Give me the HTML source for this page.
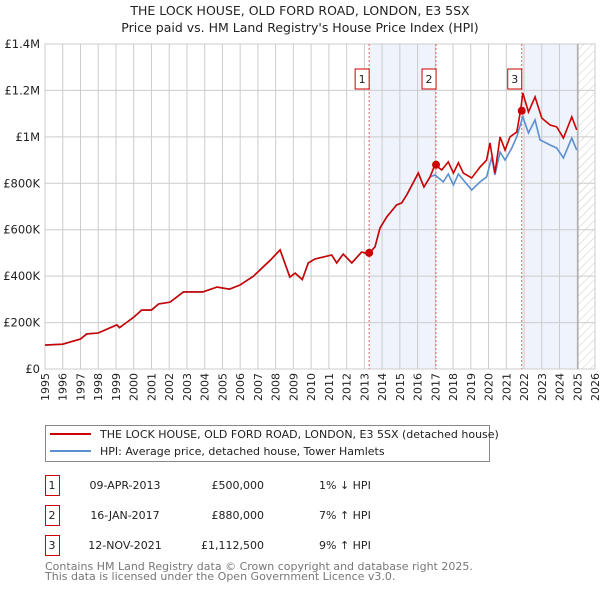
<!DOCTYPE html>
<html><head><meta charset="utf-8"><style>
body{margin:0;background:#fff;font-family:"DejaVu Sans","Liberation Sans",sans-serif;}
svg text{font-family:"DejaVu Sans","Liberation Sans",sans-serif;}
</style></head><body>
<svg id="c" width="600" height="590" xmlns="http://www.w3.org/2000/svg">
<defs><pattern id="hatch" width="6" height="6" patternUnits="userSpaceOnUse" patternTransform="rotate(45)"><line x1="0" y1="0" x2="0" y2="6" stroke="#ccc" stroke-width="1"/></pattern></defs>
<text x="300" y="15" text-anchor="middle" font-size="12.5" fill="#222">THE LOCK HOUSE, OLD FORD ROAD, LONDON, E3 5SX</text>
<text x="300" y="32" text-anchor="middle" font-size="12.5" fill="#222">Price paid vs. HM Land Registry's House Price Index (HPI)</text>
<g id="plot"></g>
<g>
<rect x="45.5" y="425.5" width="444" height="36" fill="#fff" stroke="#888"/>
<line x1="50" y1="434" x2="91" y2="434" stroke="#cc0000" stroke-width="2"/>
<text x="100" y="438" font-size="11" fill="#222">THE LOCK HOUSE, OLD FORD ROAD, LONDON, E3 5SX (detached house)</text>
<line x1="50" y1="451" x2="91" y2="451" stroke="#5b8fd0" stroke-width="2"/>
<text x="100" y="455" font-size="11" fill="#222">HPI: Average price, detached house, Tower Hamlets</text>
</g>
<g id="tbl" font-size="11" fill="#222"></g>
<text x="45" y="570" font-size="11" fill="#777">Contains HM Land Registry data © Crown copyright and database right 2025.</text>
<text x="45" y="580" font-size="11" fill="#777">This data is licensed under the Open Government Licence v3.0.</text>
</svg>
<script>
const hpiDates=[1995.0,1996.0,1997.0,1997.35,1998.0,1999.05,1999.2,2000.0,2000.45,2001.0,2001.4,2002.05,2002.8,2003.9,2004.7,2005.4,2006.0,2006.75,2007.7,2008.25,2008.8,2009.1,2009.5,2009.84,2010.22,2011.16,2011.44,2011.81,2012.29,2012.85,2013.23,2013.6,2013.88,2014.26,2014.82,2015.1,2015.39,2016.04,2016.36,2016.7,2016.98,2017.45,2017.73,2018.02,2018.3,2019.05,2019.52,2019.89,2020.18,2020.36,2020.65,2020.93,2021.31,2021.59,2021.93,2022.25,2022.62,2022.9,2023.47,2023.84,2024.22,2024.69,2024.97];
const hpiValues=[103,107,129,151,155,190,178,223,254,254,280,288,332,332,353,344,362,400,469,513,396,413,385,457,474,491,457,495,457,504,495,526,607,655,707,715,750,844,784,827,836,806,840,793,840,771,806,827,913,836,935,900,952,1000,1086,1017,1073,987,965,952,909,995,943];
const propDates=[2016.98,2017.36,2017.73,2018.02,2018.3,2018.58,2019.05,2019.52,2019.89,2020.08,2020.36,2020.65,2020.93,2021.21,2021.59,2021.81,2021.93,2022.25,2022.62,2023.0,2023.47,2023.84,2024.22,2024.69,2024.97];
const propValues=[880,857,892,844,888,844,823,870,900,974,844,1000,943,1000,1021,1116,1189,1107,1172,1081,1051,1043,995,1086,1030];
const saleLabels=["1","2","3"];
const saleDates=[2013.27,2017.04,2021.87];
const salePrices=[500,880,1112.5];
const saleDateText=["09-APR-2013","16-JAN-2017","12-NOV-2021"];
const salePriceText=["£500,000","£880,000","£1,112,500"];
const saleHpiText=["1% ↓ HPI","7% ↑ HPI","9% ↑ HPI"];
const yTicks=[0,200,400,600,800,1000,1200,1400];
const yTickLabels=["£0","£200K","£400K","£600K","£800K","£1M","£1.2M","£1.4M"];
const xTicks=[1995,1996,1997,1998,1999,2000,2001,2002,2003,2004,2005,2006,2007,2008,2009,2010,2011,2012,2013,2014,2015,2016,2017,2018,2019,2020,2021,2022,2023,2024,2025,2026];
const dataEnd=2025.04;

const X0=45,X1=595,Y0=369,Y1=44;
const xs=y=>X0+(y-1995)/(2026-1995)*(X1-X0);
const ys=v=>Y0-v/1400*(Y0-Y1);
const NS="http://www.w3.org/2000/svg";
const plot=document.getElementById('plot');
function mk(tag,attrs,parent){const e=document.createElementNS(NS,tag);for(const k in attrs)e.setAttribute(k,attrs[k]);(parent||plot).appendChild(e);return e;}

for(let i=0;i<saleDates.length;i+=2){
  const a=xs(saleDates[i]),b=i+1<saleDates.length?xs(saleDates[i+1]):xs(dataEnd);
  const r=mk('rect',{x:a,y:Y1,width:b-a,height:Y0-Y1,fill:'#eef3fc'});
  
  
}
const h=mk('rect',{x:xs(dataEnd),y:Y1,width:X1-xs(dataEnd),height:Y0-Y1,fill:'url(#hatch)'});


yTicks.forEach((t,i)=>{
  const l=mk('line',{x1:X0,x2:X1,y1:ys(t),y2:ys(t),stroke:'#ccc'});
  
  
  const tx=mk('text',{x:40,y:ys(t)+4,'text-anchor':'end','font-size':'11.5',fill:'#222'});
  tx.textContent=yTickLabels[i];
  
  
});
xTicks.forEach(t=>{
  const l=mk('line',{x1:xs(t),x2:xs(t),y1:Y1,y2:Y0,stroke:'#ccc'});
  
  
  const px=xs(t)+4,py=373;
  const tx=mk('text',{x:px,y:py,'text-anchor':'end','font-size':'11',fill:'#222',transform:'rotate(-90 '+px+' '+py+')'});
  tx.textContent=t;
  
  
});
const fr=mk('rect',{x:X0,y:Y1,width:X1-X0,height:Y0-Y1,fill:'none',stroke:'#ccc'});


const el=mk('line',{x1:xs(dataEnd),x2:xs(dataEnd),y1:Y1,y2:Y0,stroke:'#999'});


saleDates.forEach((d,i)=>{
  const l=mk('line',{x1:xs(d),x2:xs(d),y1:Y1,y2:Y0,stroke:'#e86060','stroke-dasharray':'2,2'});
  
  
  const b=mk('rect',{x:xs(d)-14,y:69,width:14,height:20,fill:'#fff',stroke:'#cc0000'});
  
  
  const t=mk('text',{x:xs(d)-7,y:83,'text-anchor':'middle','font-size':'11',fill:'#222'});
  t.textContent=saleLabels[i];
  
  
});
const hp=mk('polyline',{points:hpiDates.map((d,i)=>xs(d)+','+ys(hpiValues[i])).join(' '),fill:'none',stroke:'#5b8fd0','stroke-width':1.6});


const pre=[];hpiDates.forEach((d,i)=>{if(d<propDates[0])pre.push(xs(d)+','+ys(hpiValues[i]));});
const rp=mk('polyline',{points:pre.concat(propDates.map((d,i)=>xs(d)+','+ys(propValues[i]))).join(' '),fill:'none',stroke:'#cc0000','stroke-width':1.6});


saleDates.forEach((d,i)=>{
  const c=mk('circle',{cx:xs(d),cy:ys(salePrices[i]),r:4,fill:'#cc0000'});
  
  
});
const tbl=document.getElementById('tbl');
saleLabels.forEach((s,i)=>{
  const y=475+i*30;
  const b=mk('rect',{x:45.5,y:y+0.5,width:14,height:20,fill:'none',stroke:'#cc0000'},tbl);
  
  
  const cells=[[52,'middle',s],[125,'middle',saleDateText[i]],[264,'end',salePriceText[i]],[319,'start',saleHpiText[i]]];
  cells.forEach(c=>{
    const t=mk('text',{x:c[0],y:y+14,'text-anchor':c[1]},tbl);
    t.textContent=c[2];
    
    
  });
});
</script>
</body></html>
